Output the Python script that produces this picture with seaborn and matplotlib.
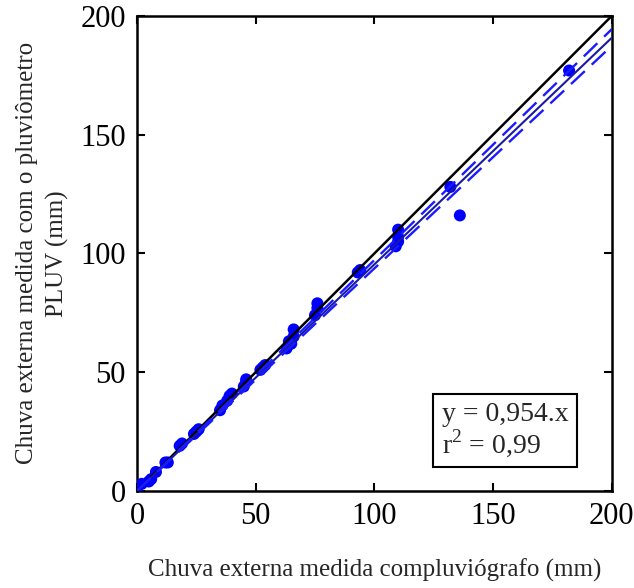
import numpy as np
import pandas as pd
import seaborn as sns
import matplotlib
matplotlib.use("Agg")
import matplotlib.pyplot as plt

# ---- data ----
x_pluviografo = [0, 2, 5, 6, 8, 12, 13, 18, 19, 24, 25, 26, 35, 36, 38, 39, 40,
                 45, 46, 46, 52, 53, 54, 63, 64, 65, 66, 66, 75, 76, 76, 93, 94,
                 109, 110, 110, 110, 132, 136, 182]
y_pluv = [0, 3, 4, 5, 8, 12, 12, 19, 20, 24, 25, 26, 34, 36, 38, 40, 41,
          44, 46, 47, 51, 52, 53, 60, 63, 62, 65, 68, 74, 77, 79, 92, 93,
          103, 105, 107, 110, 128, 116, 177]
slope_fit = 0.954
slope_upper = 0.972
slope_lower = 0.937
axis_range = [0, 200]
ticks = [0, 50, 100, 150, 200]
xlabel = "Chuva externa medida compluviógrafo (mm)"
ylabel = "Chuva externa medida com o pluviômetro\nPLUV (mm)"
eq_text = "y = 0,954.x\nr$^2$ = 0,99"

sns.set_theme(style="white")
plt.rcParams["font.family"] = ["Liberation Serif", "DejaVu Serif"]
plt.rcParams["mathtext.fontset"] = "custom"
plt.rcParams["mathtext.rm"] = "Liberation Serif"

fig = plt.figure(figsize=(6.34, 5.88), dpi=100)
ax = fig.add_axes([0.216, 0.165, 0.749, 0.808])

df = pd.DataFrame({"x": x_pluviografo, "y": y_pluv})
sns.scatterplot(data=df, x="x", y="y", ax=ax, color="#0000FF", s=75,
                edgecolor="none", zorder=3, clip_on=True)

xx = np.array(axis_range, dtype=float)
ax.plot(xx, xx, color="black", lw=1.8, zorder=4)
ax.plot(xx, slope_fit * xx, color="#1a1aa0", lw=1.5, zorder=4)
ax.plot(xx, slope_upper * xx, color="#1a1aff", lw=1.7, ls=(0, (8, 4)), zorder=4)
ax.plot(xx, slope_lower * xx, color="#1a1aff", lw=1.7, ls=(0, (8, 4)), zorder=4)

ax.set_xlim(axis_range)
ax.set_ylim(axis_range)
ax.set_xticks(ticks)
ax.set_yticks(ticks)
ax.set_xticklabels([str(t) for t in ticks])
ax.set_yticklabels([str(t) for t in ticks])
ax.tick_params(direction="in", length=6, width=1.5, top=True, right=True,
               bottom=True, left=True, labelsize=22, pad=8, colors="black")
for sp in ax.spines.values():
    sp.set_color("black")
    sp.set_linewidth(1.8)

ax.set_xlabel(xlabel, fontsize=18, labelpad=20)
ax.set_ylabel(ylabel, fontsize=18, labelpad=8, linespacing=1.45)

ax.text(0.775, 0.128, eq_text, transform=ax.transAxes, fontsize=20,
        va="center", ha="center", multialignment="left", linespacing=1.0,
        bbox=dict(boxstyle="square,pad=0.3", fc="white", ec="black", lw=1.5),
        zorder=5)

fig.savefig("out.png", dpi=100)
